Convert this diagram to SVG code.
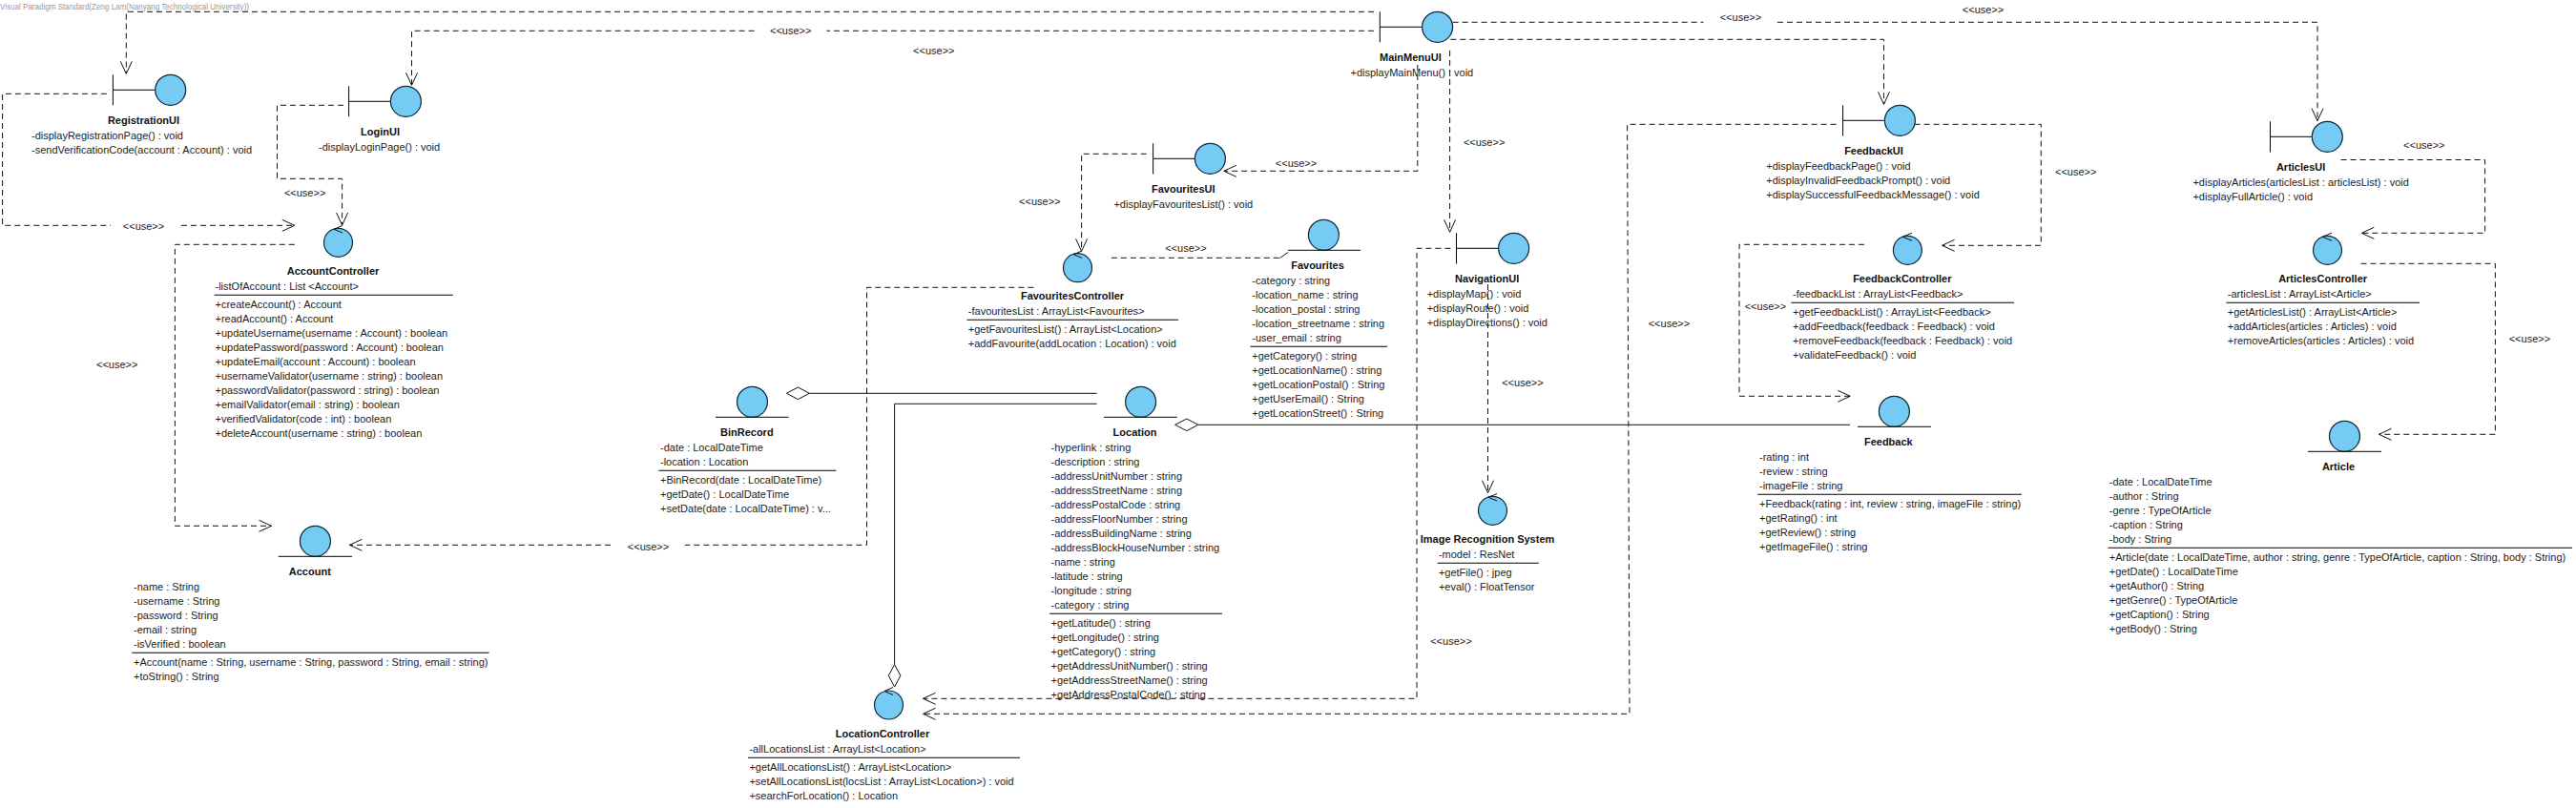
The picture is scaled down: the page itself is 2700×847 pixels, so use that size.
<svg xmlns="http://www.w3.org/2000/svg" width="2700" height="847" viewBox="0 0 2700 847">
<style>
text{font-family:"Liberation Sans",Arial,sans-serif;font-size:11px;fill:#1c1c1c}
.n{font-weight:bold;text-anchor:middle;fill:#111}
.u{text-anchor:middle}
.w{font-size:9px;fill:#999}
.d{fill:none;stroke:#111;stroke-width:1;stroke-dasharray:6 4;marker-end:url(#open)}
.a{fill:none;stroke:#111;stroke-width:1}
.c{fill:#76CBF4;stroke:#0c2a3a;stroke-width:1.2}
.l{fill:none;stroke:#000;stroke-width:1}
.s{fill:none;stroke:#000;stroke-width:1.1}
.g{fill:#fff;stroke:#111;stroke-width:1}
</style>
<defs>
<marker id="open" markerUnits="userSpaceOnUse" viewBox="-14 -7 15 14" markerWidth="15" markerHeight="14" refX="0" refY="0" orient="auto"><path d="M-13,-6 L0,0 L-13,6" fill="none" stroke="#111" stroke-width="1"/></marker>
</defs>
<rect width="2700" height="847" fill="#fff"/>
<text class="w" x="0" y="10" textLength="261" lengthAdjust="spacingAndGlyphs">Visual Paradigm Standard(Zeng Lam(Nanyang Technological University))</text>
<g id="connectors">
<path class="d" d="M1440,12.3 H132.3 V77.3"/>
<path class="d" d="M1440,32.3 H866.5 M790.6,32.3 H431.5 V89.3"/>
<path class="d" d="M1485.8,68 V179.3 H1282.8"/>
<path class="d" d="M1519.6,53 V243.3"/>
<path class="d" d="M1520.4,41.3 H1974.5 V109.3"/>
<path class="d" d="M1522.6,23.3 H1785.4 M1863,23.3 H2429 V126.7"/>
<path class="d" d="M360,110.3 H290.5 V187.3 H358.6 V236"/>
<path class="d" d="M111.9,98.3 H2.6 V236.3 H116 M190,236.3 H308.8"/>
<path class="d" d="M308.8,256.3 H183.4 V551.3 H284.5"/>
<path class="d" d="M1083.3,301.3 H908.5 V571.3 H718 M640,571.3 H366.4"/>
<path class="d" d="M1201.7,161.3 H1133.6 V263.3"/>
<path class="d" style="marker-end:none" d="M1164.8,270.3 H1341.5"/>
<path class="a" d="M1341.5,270.5 L1350,264.5"/>
<path class="d" d="M1520.4,260.3 H1485 V732.3 H967.5"/>
<path class="d" d="M1924.6,130.3 H1705.6 L1708,748.3 H967.5"/>
<path class="d" d="M1559.5,298 V516.7"/>
<path class="d" d="M2006.6,130.3 H2139.3 V257.3 H2035.6"/>
<path class="d" d="M1954,256.3 H1823 V415.3 H1939.3"/>
<path class="d" d="M2453.6,167.5 H2604.6 V244.3 H2475.3"/>
<path class="d" d="M2474.5,276.3 H2615.4 V455.3 H2493.5"/>
<path class="a" d="M848.3,412.3 H1149.6"/>
<polygon class="g" points="824.4,412.3 836.4,406 848.3,412.3 836.4,418.6"/>
<path class="a" d="M1149.6,423.3 H937.6 V696.7"/>
<polygon class="g" points="937.6,696.7 943.9,708.3 937.6,720 931.3,708.3"/>
<path class="a" d="M1255.9,445.3 H1939"/>
<polygon class="g" points="1231.6,445.3 1243.8,439 1255.9,445.3 1243.8,451.6"/>
<g id="connector-labels">
<text class="u" x="828.7" y="36">&lt;&lt;use&gt;&gt;</text>
<text class="u" x="978.8" y="57">&lt;&lt;use&gt;&gt;</text>
<text class="u" x="1358.5" y="175">&lt;&lt;use&gt;&gt;</text>
<text class="u" x="1555.6" y="153">&lt;&lt;use&gt;&gt;</text>
<text class="u" x="1824.4" y="22">&lt;&lt;use&gt;&gt;</text>
<text class="u" x="2078.5" y="14">&lt;&lt;use&gt;&gt;</text>
<text class="u" x="319.6" y="206">&lt;&lt;use&gt;&gt;</text>
<text class="u" x="150.5" y="241">&lt;&lt;use&gt;&gt;</text>
<text class="u" x="122.7" y="386">&lt;&lt;use&gt;&gt;</text>
<text class="u" x="679.5" y="577">&lt;&lt;use&gt;&gt;</text>
<text class="u" x="1089.8" y="215">&lt;&lt;use&gt;&gt;</text>
<text class="u" x="1242.9" y="264">&lt;&lt;use&gt;&gt;</text>
<text class="u" x="1749.4" y="343">&lt;&lt;use&gt;&gt;</text>
<text class="u" x="1520.9" y="676">&lt;&lt;use&gt;&gt;</text>
<text class="u" x="1595.9" y="405">&lt;&lt;use&gt;&gt;</text>
<text class="u" x="2175.7" y="184">&lt;&lt;use&gt;&gt;</text>
<text class="u" x="1850.4" y="325">&lt;&lt;use&gt;&gt;</text>
<text class="u" x="2540.8" y="156">&lt;&lt;use&gt;&gt;</text>
<text class="u" x="2651.4" y="359">&lt;&lt;use&gt;&gt;</text>
</g>
</g>
<g id="MainMenuUI">
<path class="l" d="M1446.3,12.3 V44.3 M1446.3,28.3 H1490.5"/><circle class="c" cx="1506.6" cy="28.3" r="16"/>
<text class="n" x="1478.4" y="64">MainMenuUI</text>
<text x="1415.5" y="80">+displayMainMenu() : void</text>
</g>
<g id="RegistrationUI">
<path class="l" d="M118.4,78.3 V110.3 M118.4,94.3 H162.6"/><circle class="c" cx="178.7" cy="94.3" r="16"/>
<text class="n" x="150.5" y="130">RegistrationUI</text>
<text x="33" y="146">-displayRegistrationPage() : void</text>
<text x="33" y="161">-sendVerificationCode(account : Account) : void</text>
</g>
<g id="LoginUI">
<path class="l" d="M365.6,90.3 V122.3 M365.6,106.3 H409.4"/><circle class="c" cx="425.4" cy="106.3" r="16"/>
<text class="n" x="398.5" y="142">LoginUI</text>
<text x="334" y="158">-displayLoginPage() : void</text>
</g>
<g id="AccountController">
<circle class="c" cx="354.5" cy="254.3" r="15"/><path class="a" d="M359,236.5 L350,240.3 L359,244"/>
<text class="n" x="349" y="288">AccountController</text>
<text x="225.5" y="304">-listOfAccount : List &lt;Account&gt;</text>
<path class="s" d="M224.6,309.3 H474.8"/>
<text x="225.5" y="323">+createAccount() : Account</text>
<text x="225.5" y="338">+readAccount() : Account</text>
<text x="225.5" y="353">+updateUsername(username : Account) : boolean</text>
<text x="225.5" y="368">+updatePassword(password : Account) : boolean</text>
<text x="225.5" y="383">+updateEmail(account : Account) : boolean</text>
<text x="225.5" y="398">+usernameValidator(username : string) : boolean</text>
<text x="225.5" y="413">+passwordValidator(password : string) : boolean</text>
<text x="225.5" y="428">+emailValidator(email : string) : boolean</text>
<text x="225.5" y="443">+verifiedValidator(code : int) : boolean</text>
<text x="225.5" y="458">+deleteAccount(username : string) : boolean</text>
</g>
<g id="Account">
<circle class="c" cx="330.4" cy="567.3" r="16"/><path class="l" d="M291.8,583.3 H369"/>
<text class="n" x="324.8" y="603">Account</text>
<text x="140" y="619">-name : String</text>
<text x="140" y="634">-username : String</text>
<text x="140" y="649">-password : String</text>
<text x="140" y="664">-email : string</text>
<text x="140" y="679">-isVerified : boolean</text>
<path class="s" d="M138.3,684.3 H512.6"/>
<text x="140" y="698">+Account(name : String, username : String, password : String, email : string)</text>
<text x="140" y="713">+toString() : String</text>
</g>
<g id="FavouritesUI">
<path class="l" d="M1208.6,150.3 V182.5 M1208.6,166.3 H1252.4"/><circle class="c" cx="1268.4" cy="166.3" r="16"/>
<text class="n" x="1240.3" y="202">FavouritesUI</text>
<text x="1167.4" y="218">+displayFavouritesList() : void</text>
</g>
<g id="FavouritesController">
<circle class="c" cx="1129.5" cy="280.7" r="15"/><path class="a" d="M1134,263 L1125,266.7 L1134,270.4"/>
<text class="n" x="1124" y="314">FavouritesController</text>
<text x="1014.8" y="330">-favouritesList : ArrayList&lt;Favourites&gt;</text>
<path class="s" d="M1013.5,335.3 H1235"/>
<text x="1014.8" y="349">+getFavouritesList() : ArrayList&lt;Location&gt;</text>
<text x="1014.8" y="364">+addFavourite(addLocation : Location) : void</text>
</g>
<g id="Favourites">
<circle class="c" cx="1387.4" cy="246.3" r="16"/><path class="l" d="M1350,262.3 H1426"/>
<text class="n" x="1381" y="282">Favourites</text>
<text x="1312.3" y="298">-category : string</text>
<text x="1312.3" y="313">-location_name : string</text>
<text x="1312.3" y="328">-location_postal : string</text>
<text x="1312.3" y="343">-location_streetname : string</text>
<text x="1312.3" y="358">-user_email : string</text>
<path class="s" d="M1310.5,363.3 H1454"/>
<text x="1312.3" y="377">+getCategory() : string</text>
<text x="1312.3" y="392">+getLocationName() : string</text>
<text x="1312.3" y="407">+getLocationPostal() : String</text>
<text x="1312.3" y="422">+getUserEmail() : String</text>
<text x="1312.3" y="437">+getLocationStreet() : String</text>
</g>
<g id="BinRecord">
<circle class="c" cx="788.5" cy="421.3" r="16"/><path class="l" d="M750,437.3 H826.6"/>
<text class="n" x="782.8" y="457">BinRecord</text>
<text x="692" y="473">-date : LocalDateTime</text>
<text x="692" y="488">-location : Location</text>
<path class="s" d="M690.4,493.3 H876.4"/>
<text x="692" y="507">+BinRecord(date : LocalDateTime)</text>
<text x="692" y="522">+getDate() : LocalDateTime</text>
<text x="692" y="537">+setDate(date : LocalDateTime) : v...</text>
</g>
<g id="Location">
<circle class="c" cx="1195.6" cy="421.3" r="16"/><path class="l" d="M1157,437.3 H1233.8"/>
<text class="n" x="1189.5" y="457">Location</text>
<text x="1101.5" y="473">-hyperlink : string</text>
<text x="1101.5" y="488">-description : string</text>
<text x="1101.5" y="503">-addressUnitNumber : string</text>
<text x="1101.5" y="518">-addressStreetName : string</text>
<text x="1101.5" y="533">-addressPostalCode : string</text>
<text x="1101.5" y="548">-addressFloorNumber : string</text>
<text x="1101.5" y="563">-addressBuildingName : string</text>
<text x="1101.5" y="578">-addressBlockHouseNumber : string</text>
<text x="1101.5" y="593">-name : string</text>
<text x="1101.5" y="608">-latitude : string</text>
<text x="1101.5" y="623">-longitude : string</text>
<text x="1101.5" y="638">-category : string</text>
<path class="s" d="M1100.2,643.3 H1281"/>
<text x="1101.5" y="657">+getLatitude() : string</text>
<text x="1101.5" y="672">+getLongitude() : string</text>
<text x="1101.5" y="687">+getCategory() : string</text>
<text x="1101.5" y="702">+getAddressUnitNumber() : string</text>
<text x="1101.5" y="717">+getAddressStreetName() : string</text>
<text x="1101.5" y="732">+getAddressPostalCode() : string</text>
</g>
<g id="LocationController">
<circle class="c" cx="931.5" cy="739" r="15"/><path class="a" d="M936,720.5 L927,724.5 L936,728.5"/>
<text class="n" x="925" y="773">LocationController</text>
<text x="785.4" y="789">-allLocationsList : ArrayList&lt;Location&gt;</text>
<path class="s" d="M784,794.3 H1069"/>
<text x="785.4" y="808">+getAllLocationsList() : ArrayList&lt;Location&gt;</text>
<text x="785.4" y="823">+setAllLocationsList(locsList : ArrayList&lt;Location&gt;) : void</text>
<text x="785.4" y="838">+searchForLocation() : Location</text>
</g>
<g id="NavigationUI">
<path class="l" d="M1526.5,244.3 V276.5 M1526.5,260.3 H1570.8"/><circle class="c" cx="1586.6" cy="260.3" r="16"/>
<text class="n" x="1558.6" y="296">NavigationUI</text>
<text x="1495.7" y="312">+displayMap() : void</text>
<text x="1495.7" y="327">+displayRoute() : void</text>
<text x="1495.7" y="342">+displayDirections() : void</text>
</g>
<g id="ImageRecognitionSystem">
<circle class="c" cx="1564.5" cy="535.3" r="15"/><path class="a" d="M1569,517.5 L1560,521.3 L1569,525"/>
<text class="n" x="1559" y="569">Image Recognition System</text>
<text x="1507.9" y="585">-model : ResNet</text>
<path class="s" d="M1506.6,590.3 H1612.8"/>
<text x="1507.9" y="604">+getFile() : jpeg</text>
<text x="1507.9" y="619">+eval() : FloatTensor</text>
</g>
<g id="FeedbackUI">
<path class="l" d="M1931.6,110.3 V142.5 M1931.6,126.3 H1975.4"/><circle class="c" cx="1991.4" cy="126.3" r="16"/>
<text class="n" x="1964" y="162">FeedbackUI</text>
<text x="1851.3" y="178">+displayFeedbackPage() : void</text>
<text x="1851.3" y="193">+displayInvalidFeedbackPrompt() : void</text>
<text x="1851.3" y="208">+displaySuccessfulFeedbackMessage() : void</text>
</g>
<g id="FeedbackController">
<circle class="c" cx="1999.4" cy="262.3" r="15"/><path class="a" d="M2004,244.3 L1994,248.3 L2004,252.3"/>
<text class="n" x="1993.8" y="296">FeedbackController</text>
<text x="1879" y="312">-feedbackList : ArrayList&lt;Feedback&gt;</text>
<path class="s" d="M1877.3,317.3 H2111"/>
<text x="1879" y="331">+getFeedbackList() : ArrayList&lt;Feedback&gt;</text>
<text x="1879" y="346">+addFeedback(feedback : Feedback) : void</text>
<text x="1879" y="361">+removeFeedback(feedback : Feedback) : void</text>
<text x="1879" y="376">+validateFeedback() : void</text>
</g>
<g id="Feedback">
<circle class="c" cx="1985.4" cy="431.3" r="16"/><path class="l" d="M1947,447.3 H2024"/>
<text class="n" x="1979.3" y="467">Feedback</text>
<text x="1844" y="483">-rating : int</text>
<text x="1844" y="498">-review : string</text>
<text x="1844" y="513">-imageFile : string</text>
<path class="s" d="M1842.2,518.3 H2118.9"/>
<text x="1844" y="532">+Feedback(rating : int, review : string, imageFile : string)</text>
<text x="1844" y="547">+getRating() : int</text>
<text x="1844" y="562">+getReview() : string</text>
<text x="1844" y="577">+getImageFile() : string</text>
</g>
<g id="ArticlesUI">
<path class="l" d="M2379.5,127.3 V159.5 M2379.5,143.3 H2423.3"/><circle class="c" cx="2439.3" cy="143.3" r="16"/>
<text class="n" x="2411.6" y="179">ArticlesUI</text>
<text x="2298.4" y="195">+displayArticles(articlesList : articlesList) : void</text>
<text x="2298.4" y="210">+displayFullArticle() : void</text>
</g>
<g id="ArticlesController">
<circle class="c" cx="2439.5" cy="262.3" r="15"/><path class="a" d="M2444,244.3 L2434,248.3 L2444,252.3"/>
<text class="n" x="2434.6" y="296">ArticlesController</text>
<text x="2334.8" y="312">-articlesList : ArrayList&lt;Article&gt;</text>
<path class="s" d="M2333.5,317.3 H2536"/>
<text x="2334.8" y="331">+getArticlesList() : ArrayList&lt;Article&gt;</text>
<text x="2334.8" y="346">+addArticles(articles : Articles) : void</text>
<text x="2334.8" y="361">+removeArticles(articles : Articles) : void</text>
</g>
<g id="Article">
<circle class="c" cx="2457.5" cy="457.3" r="16"/><path class="l" d="M2419,473.3 H2496"/>
<text class="n" x="2451" y="493">Article</text>
<text x="2210.8" y="509">-date : LocalDateTime</text>
<text x="2210.8" y="524">-author : String</text>
<text x="2210.8" y="539">-genre : TypeOfArticle</text>
<text x="2210.8" y="554">-caption : String</text>
<text x="2210.8" y="569">-body : String</text>
<path class="s" d="M2209.5,574.3 H2696"/>
<text x="2210.8" y="588">+Article(date : LocalDateTime, author : string, genre : TypeOfArticle, caption : String, body : String)</text>
<text x="2210.8" y="603">+getDate() : LocalDateTime</text>
<text x="2210.8" y="618">+getAuthor() : String</text>
<text x="2210.8" y="633">+getGenre() : TypeOfArticle</text>
<text x="2210.8" y="648">+getCaption() : String</text>
<text x="2210.8" y="663">+getBody() : String</text>
</g>
</svg>
